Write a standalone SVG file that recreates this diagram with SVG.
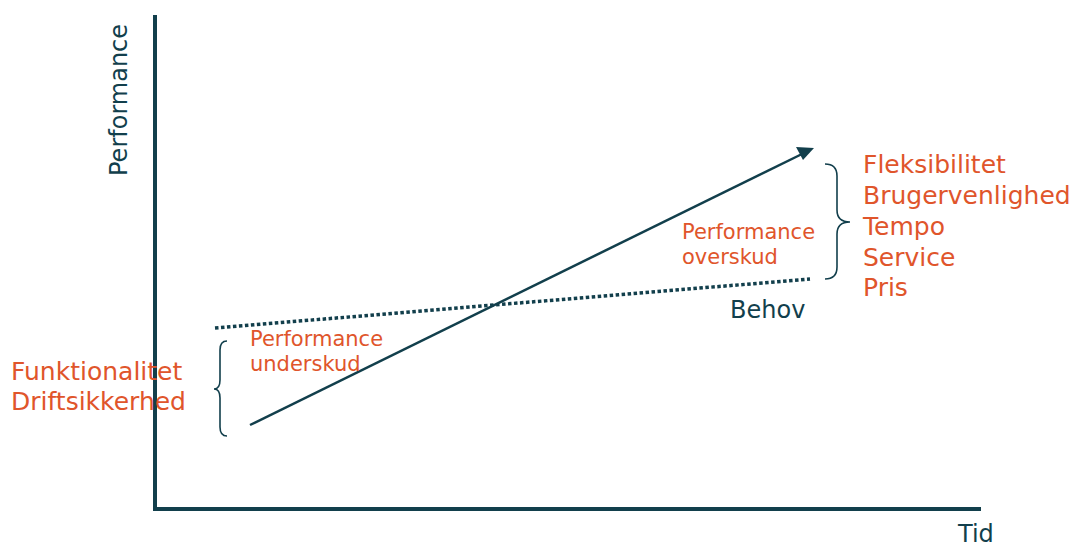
<svg xmlns="http://www.w3.org/2000/svg" width="1074" height="546" viewBox="0 0 1074 546">
  <style>
    .ax { stroke: #123f4c; stroke-width: 4; fill: none; }
    .ln { stroke: #123f4c; stroke-width: 2.5; fill: none; }
    .dot { stroke: #123f4c; stroke-width: 3.5; stroke-dasharray: 3.5 2.5; fill: none; }
    .br { stroke: #123f4c; stroke-width: 1.6; fill: none; }
    text { font-family: "DejaVu Sans", "Liberation Sans", sans-serif; }
    .big { font-size: 25px; fill: #e0552b; }
    .mid { font-size: 21px; fill: #e0552b; }
    .dk { font-size: 24px; fill: #123f4c; }
  </style>

  <!-- axes -->
  <g id="axes">
    <line class="ax" x1="155" y1="15" x2="155" y2="511"/>
    <line class="ax" x1="153" y1="509" x2="981" y2="509"/>
    <text class="dk" transform="translate(127,176) rotate(-90)">Performance</text>
    <text class="dk" x="958" y="542">Tid</text>
  </g>

  <!-- connectors -->
  <g id="connectors">
    <line class="ln" x1="250" y1="425" x2="802" y2="154"/>
    <path d="M796,147 L814,148 L803,160 z" fill="#123f4c"/>
    <line class="dot" x1="215" y1="328" x2="810" y2="279"/>
  </g>

  <!-- need line label -->
  <g id="behov">
    <text class="dk" x="730" y="318">Behov</text>
  </g>

  <!-- upper brace and list -->
  <g id="overskud">
    <path class="br" d="M825,164 Q837,164 837,176 L837,210 Q837,222 850,222 Q837,222 837,234 L837,267 Q837,279 825,279"/>
    <text class="mid" x="682" y="239">Performance</text>
    <text class="mid" x="682" y="264">overskud</text>
    <text class="big" x="863" y="173">Fleksibilitet</text>
    <text class="big" x="863" y="204">Brugervenlighed</text>
    <text class="big" x="863" y="235">Tempo</text>
    <text class="big" x="863" y="266">Service</text>
    <text class="big" x="863" y="296">Pris</text>
  </g>

  <!-- lower brace and list -->
  <g id="underskud">
    <path class="br" d="M227,341 Q220,341 220,350 L220,380 Q220,389 214,389 Q220,389 220,398 L220,427 Q220,436 227,436"/>
    <text class="mid" x="250" y="346">Performance</text>
    <text class="mid" x="250" y="371">underskud</text>
    <text class="big" x="11" y="380">Funktionalitet</text>
    <text class="big" x="11" y="410">Driftsikkerhed</text>
  </g>
</svg>
